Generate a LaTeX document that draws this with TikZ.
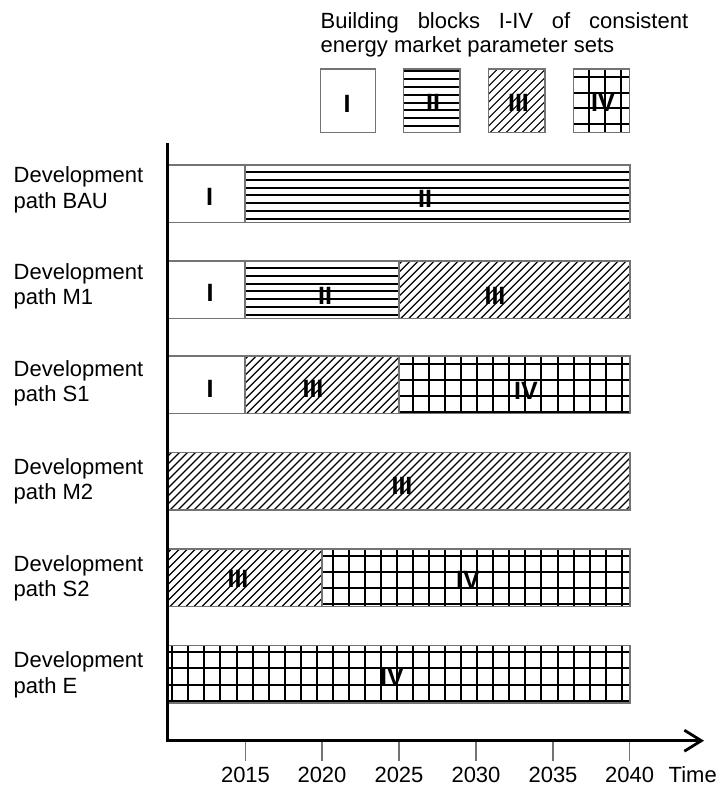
\documentclass[tikz,border=0pt]{standalone}
\usepackage{fontspec}
\setmainfont{Liberation Sans}
\usetikzlibrary{arrows.meta}

% plain block (I)
\newcommand{\blkwhite}[4]{%
  \fill[white] (#1,#2) rectangle (#3,#4);
  \draw[segborder] (#1,#2) rectangle (#3,#4);}
% horizontal stripes (II); #5 = offset of the first stripe
\newcommand{\blkstripes}[5]{%
  \begin{scope}
    \clip (#1,#2) rectangle (#3,#4);
    \foreach \k in {0,...,8} \draw[hline] (#1,{round(#2+#5+7.8*\k)}) -- (#3,{round(#2+#5+7.8*\k)});
  \end{scope}
  \draw[segborder] (#1,#2) rectangle (#3,#4);}
% upward diagonal hatching (III)
\newcommand{\blkhatch}[4]{%
  \begin{scope}
    \clip (#1,#2) rectangle (#3,#4);
    \foreach \k in {0,...,85} \draw[dline] ({#1-70+8*\k},#4) -- ++(72,-72);
  \end{scope}
  \draw[segborder] (#1,#2) rectangle (#3,#4);}
% square grid (IV); #5 = x of a vertical line, #6 = offset of first horizontal line, #7 = row pitch
\newcommand{\blkgrid}[7]{%
  \begin{scope}
    \clip (#1,#2) rectangle (#3,#4);
    \foreach \k in {-40,...,40} \draw[gline] ({round(#5+16.05*\k)},#2) -- ({round(#5+16.05*\k)},#4);
    \foreach \k in {0,...,4} \draw[gline] (#1,{round(#2+#6+#7*\k)}) -- (#3,{round(#2+#6+#7*\k)});
  \end{scope}
  \draw[segborder] (#1,#2) rectangle (#3,#4);}

\begin{document}
\begin{tikzpicture}[x=1pt,y=-1pt,
  txt/.style={inner sep=0pt, font=\fontsize{22}{25}\selectfont},
  blk/.style={inner sep=0pt, font=\fontsize{25}{27}\selectfont\bfseries},
  axisln/.style={line width=2.8pt, black},
  tickln/.style={line width=1.3pt, black!55},
  segborder/.style={line width=1.2pt, black!55},
  hline/.style={line width=2pt, black},
  dline/.style={line width=1.2pt, black},
  gline/.style={line width=2pt, black}]
\useasboundingbox (0,0) rectangle (721,787);

% legend
\node[txt, anchor=base west] (legA) at (320.5,28) {\makebox[367.5pt][s]{Building blocks I-IV of consistent}};
\node[txt, anchor=base west] (legB) at (320.5,52.5) {energy market parameter sets};
\blkwhite{320.7}{69}{375.5}{132.3}
\blkstripes{403.3}{69}{460}{132.3}{2.3}
\blkhatch{488.3}{69}{545}{132.3}
\blkgrid{573.3}{69}{629.3}{132.3}{589.3}{7.7}{15.8}
\node[blk] (legI) at (347,104) {I};
\node[blk] (legII) at (433,102.5) {II};
\node[blk] (legIII) at (518.5,103) {III};
\node[blk] (legIV) at (603,102.5) {IV};

% path BAU
\blkwhite{168}{165}{245}{222.3}
\blkstripes{245}{165}{630}{222.3}{7}
\node[blk] (bauI) at (209.5,197) {I};
\node[blk] (bauII) at (425,199) {II};
\node[txt, anchor=base west] (bauA) at (13.5,182.5) {Development};
\node[txt, anchor=base west] (bauB) at (13.5,208) {path BAU};

% path M1
\blkwhite{168}{261}{245}{318.3}
\blkstripes{245}{261}{399}{318.3}{7}
\blkhatch{399}{261}{630}{318.3}
\node[blk] (moI) at (210,293) {I};
\node[blk] (moII) at (325,296) {II};
\node[blk] (moIII) at (495,296) {III};
\node[txt, anchor=base west] (moA) at (13.5,279) {Development};
\node[txt, anchor=base west] (moB) at (13.5,304.6) {path M1};

% path S1
\blkwhite{168}{356}{245}{413.3}
\blkhatch{245}{356}{399}{413.3}
\blkgrid{399}{356}{630}{413.3}{172.3}{7.5}{16.2}
\node[blk] (soI) at (210,389) {I};
\node[blk] (soIII) at (313,389) {III};
\node[blk] (soIV) at (526,391) {IV};
\node[txt, anchor=base west] (soA) at (13.5,376) {Development};
\node[txt, anchor=base west] (soB) at (13.5,401.6) {path S1};

% path M2
\blkhatch{168}{452.7}{630}{510}
\node[blk] (mtIII) at (402,486) {III};
\node[txt, anchor=base west] (mtA) at (13.5,474.2) {Development};
\node[txt, anchor=base west] (mtB) at (13.5,499.8) {path M2};

% path S2
\blkhatch{168}{549}{322}{606.5}
\blkgrid{322}{549}{630}{606.5}{172.3}{6.5}{16.3}
\node[blk] (stIII) at (238,579) {III};
\node[blk] (stIV) at (468,580) {IV};
\node[txt, anchor=base west] (stA) at (13.5,571) {Development};
\node[txt, anchor=base west] (stB) at (13.5,596.6) {path S2};

% path E
\blkgrid{168}{645.7}{630}{703}{172.3}{5.8}{16.6}
\node[blk] (eIV) at (392,677) {IV};
\node[txt, anchor=base west] (eA) at (13.5,667.7) {Development};
\node[txt, anchor=base west] (eB) at (13.5,693.3) {path E};

% time axis
\coordinate (axtop) at (167.7,143);
\coordinate (origin) at (167.7,740.7);
\coordinate (axend) at (704,740.7);
\foreach \yr/\xx in {2015/245.5,2020/322,2025/399,2030/476,2035/553,2040/629.7}{
  \coordinate (tka\yr) at (\xx,742);
  \coordinate (tkb\yr) at (\xx,761);
  \draw[tickln] (tka\yr) -- (tkb\yr);
  \node[txt, anchor=base] (yr\yr) at (\xx,782.3) {\yr};
}
\node[txt, anchor=base west] (timelbl) at (668.5,782.3) {Time};
\draw[axisln, -{Straight Barb[length=17pt,width=21pt]}] (axtop) -- (origin) -- (axend);
\end{tikzpicture}
\end{document}
